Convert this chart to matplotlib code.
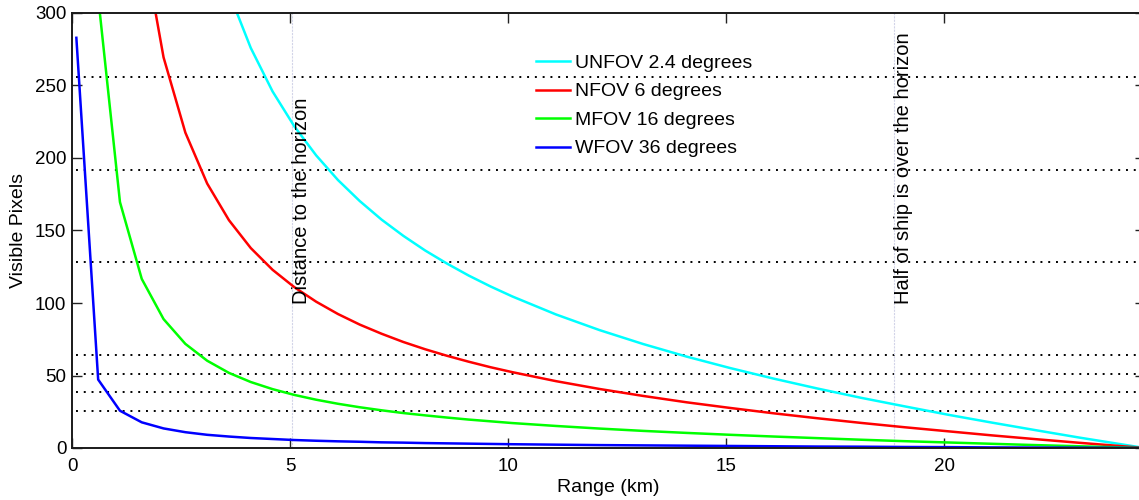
import numpy as np
import matplotlib
matplotlib.use("Agg")
import matplotlib.pyplot as plt

plt.rcParams['font.family'] = ['Liberation Sans', 'DejaVu Sans']

# range samples (km), shared by all four curves
range_km = [0.1, 0.6, 1.1, 1.6, 2.1, 2.6, 3.1, 3.6, 4.1, 4.6, 5.1, 5.6, 6.1, 6.6,
            7.1, 7.6, 8.1, 8.6, 9.1, 9.6, 10.1, 11.1, 12.1, 13.1, 14.1, 15.1,
            16.1, 17.1, 18.1, 19.1, 20.1, 21.1, 22.1, 23.1, 24.1, 24.6]

nan = np.nan
unfov = [nan, nan, nan, nan, nan, nan, nan, 314, 275.9, 245.9, 221.8, 201.8, 184.8,
         170.3, 157.5, 146.3, 136.2, 127.2, 118.9, 111.4, 104.5, 92.1, 81.3, 71.7,
         63.0, 55.1, 47.8, 41.0, 34.6, 28.7, 22.9, 17.5, 12.3, 7.2, 2.4, 0]
nfov = [nan, nan, nan, 353.4, 269.4, 217.5, 182.4, 157.1, 137.9, 122.9, 110.9, 100.9,
        92.4, 85.1, 78.8, 73.1, 68.1, 63.6, 59.5, 55.7, 52.3, 46.1, 40.7, 35.9, 31.5,
        27.6, 23.9, 20.5, 17.3, 14.3, 11.5, 8.7, 6.1, 3.6, 1.2, 0]
mfov = [nan, 311, 169.6, 116.6, 88.9, 71.8, 60.2, 51.8, 45.5, 40.6, 36.6, 33.3, 30.5,
        28.1, 26.0, 24.1, 22.5, 21.0, 19.6, 18.4, 17.2, 15.2, 13.4, 11.8, 10.4, 9.1,
        7.9, 6.8, 5.7, 4.7, 3.8, 2.9, 2.0, 1.2, 0.4, 0]
wfov = [282.9, 47.2, 25.7, 17.7, 13.5, 10.9, 9.1, 7.9, 6.9, 6.2, 5.5, 5.0, 4.6, 4.3,
        3.9, 3.7, 3.4, 3.2, 3.0, 2.8, 2.6, 2.3, 2.0, 1.8, 1.6, 1.4, 1.2, 1.0, 0.9, 0.7,
        0.6, 0.4, 0.3, 0.2, 0.1, 0]

labels = ['UNFOV 2.4 degrees', 'NFOV 6 degrees', 'MFOV 16 degrees', 'WFOV 36 degrees']
colors = ['#00ffff', '#ff0000', '#00ff00', '#0000ff']

# pixel thresholds (dotted) and marker distances (km)
pixel_levels = [256, 192, 128, 64, 51.2, 38.4, 25.6]
horizon_km = 5.05
half_ship_km = 18.86

fig = plt.figure(figsize=(11.39, 5.0), dpi=100)
ax = fig.add_axes([72 / 1139, 52 / 500, (1144.6 - 72) / 1139, 435 / 500])

for lvl in pixel_levels:
    ax.plot([range_km[0], 24.6], [lvl, lvl], color='black', lw=1.4,
            linestyle=(0, (1, 3)))

for xv in (horizon_km, half_ship_km):
    ax.axvline(xv, color='#d2d4e8', lw=0.8, linestyle=(0, (2, 1)))

for ys, lab, c in zip([unfov, nfov, mfov, wfov], labels, colors):
    ax.plot(range_km, ys, color=c, lw=1.8, label=lab)

ax.text(horizon_km, 99, 'Distance to the horizon', rotation=90,
        ha='left', va='bottom', fontsize=14.5)
ax.text(half_ship_km, 99, 'Half of ship is over the horizon', rotation=90,
        ha='left', va='bottom', fontsize=14.5)

ax.set_xlim(0, 24.6)
ax.set_ylim(0, 300)
ax.set_xticks([0, 5, 10, 15, 20])
ax.set_yticks(range(0, 301, 50))
ax.tick_params(direction='in', length=7, width=1, top=True, right=True,
               labelsize=13.5, color='#222222')
ax.tick_params(axis='x', pad=7)
ax.tick_params(axis='y', pad=4)
for sp in ax.spines.values():
    sp.set_linewidth(1.4)
    sp.set_color('#1a1a1a')

ax.set_xlabel('Range (km)', fontsize=14, labelpad=3)
ax.set_ylabel('Visible Pixels', fontsize=14, labelpad=6)

leg = ax.legend(loc='upper left', bbox_to_anchor=(0.433, 0.905), frameon=False,
                fontsize=14, handlelength=1.75, handletextpad=0.25,
                labelspacing=0.56, borderpad=0, borderaxespad=0)

fig.savefig('out.png', dpi=100)
